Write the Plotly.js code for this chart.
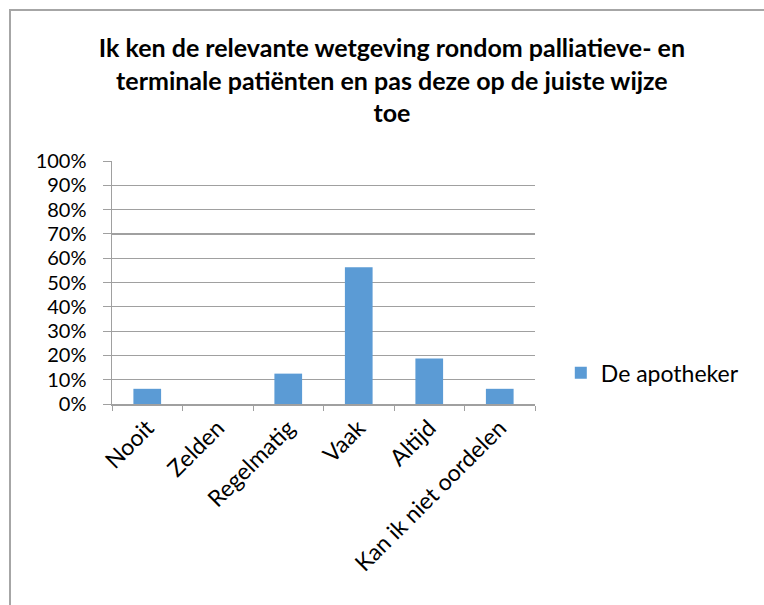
<!DOCTYPE html>
<html>
<head>
<meta charset="utf-8">
<script src="https://cdn.plot.ly/plotly-3.0.1.min.js"></script>
<style>
  html, body { margin: 0; padding: 0; background: #fff; overflow: hidden; }
  #wrap { position: relative; width: 764px; height: 605px; }
  #chart { width: 764px; height: 605px; }
  #frame { position: absolute; left: 9px; top: 9px; width: 800px; height: 700px;
           border-left: 2px solid #a6a6a6; border-top: 2px solid #a6a6a6; pointer-events: none; }
</style>
</head>
<body>
<div id="wrap">
  <div id="chart"></div>
  <div id="frame"></div>
</div>
<script>
const categories = ["Nooit", "Zelden", "Regelmatig", "Vaak", "Altijd", "Kan ik niet oordelen"];
const seriesName = "De apotheker";
const values = [0.0625, 0, 0.125, 0.5625, 0.1875, 0.0625];
const titleText = "Ik ken de relevante wetgeving rondom palliatieve- en<br>terminale patiënten en pas deze op de juiste wijze<br>toe";

const FONT = "Lato, 'Open Sans', sans-serif";

const trace = {
  type: "bar",
  x: categories,
  y: values,
  name: seriesName,
  marker: { color: "#5b9bd5" },
  showlegend: true
};

const layout = {
  width: 764,
  height: 605,
  margin: { l: 112, r: 229, t: 161, b: 201, pad: 0 },
  paper_bgcolor: "#ffffff",
  plot_bgcolor: "#ffffff",
  bargap: 0.607,
  font: { family: FONT, color: "#000000", size: 21 },
  title: {
    text: titleText,
    font: { family: FONT, size: 25, color: "#000000", weight: "bold" },
    x: 0.513,
    xanchor: "center",
    y: 0.905,
    yanchor: "middle",
    yref: "container"
  },
  xaxis: {
    type: "category",
    tickangle: -45,
    tickson: "boundaries",
    ticks: "outside",
    ticklen: 5,
    tickcolor: "#a0a0a0",
    showline: true,
    linecolor: "#a0a0a0",
    linewidth: 1.5,
    showgrid: false,
    tickfont: { family: FONT, size: 23, color: "#000000" },
    fixedrange: true
  },
  yaxis: {
    range: [0, 1],
    dtick: 0.1,
    tick0: 0,
    tickformat: ".0%",
    ticks: "outside",
    ticklen: 8,
    tickcolor: "#a0a0a0",
    showline: true,
    linecolor: "#a0a0a0",
    linewidth: 1.5,
    showgrid: true,
    gridcolor: "#a0a0a0",
    gridwidth: 1.2,
    zeroline: false,
    ticklabelstandoff: 12,
    tickfont: { family: FONT, size: 20, color: "#000000" },
    fixedrange: true
  },
  legend: {
    x: 1.061,
    y: 0.128,
    xanchor: "left",
    yanchor: "middle",
    font: { family: FONT, size: 23, color: "#000000" },
    bgcolor: "rgba(0,0,0,0)",
    itemwidth: 30
  }
};

Plotly.newPlot("chart", [trace], layout, { staticPlot: true, displayModeBar: false });
</script>
</body>
</html>
